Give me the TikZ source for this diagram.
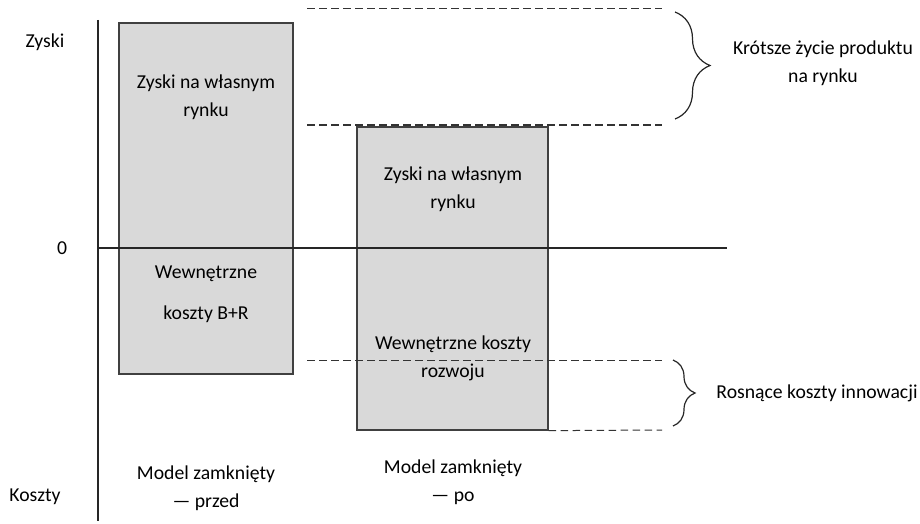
\documentclass[tikz,border=0pt]{standalone}
\usepackage{fontspec}
\setmainfont{Carlito}
\usepackage{tikz}
\usetikzlibrary{positioning}
\usetikzlibrary{decorations.pathreplacing}
\definecolor{barfill}{RGB}{217,217,217}
\definecolor{barline}{RGB}{64,64,64}

\begin{document}
\begin{tikzpicture}[x=1pt, y=-1pt,
        bar/.style = {rectangle, draw=barline, fill=barfill, line width=1.3pt, inner sep=0pt},
        txt/.style = {align=center, inner sep=0pt, font=\fontsize{19.7}{28}\selectfont},
        axis/.style = {line width=1.3pt, draw=black!85},
        guide/.style = {dash pattern=on 7.5pt off 4.5pt, line width=1pt, draw=black!80},
        curly/.style = {decorate, decoration={brace, amplitude=#1}, line width=1.2pt, draw=black!85}]
    \useasboundingbox (0,0) rectangle (920,524);
    \node[bar, minimum width=174pt, minimum height=351pt] (b1) at (206,198.5) {};
    \node[bar, minimum width=191pt, minimum height=303pt] (b2) at (452.5,278.5) {};
    \node[txt] (p1) at (206,97) {Zyski na własnym\\rynku};
    \node[txt] (p2) at (453,189) {Zyski na własnym\\rynku};
    \node[txt] (k1) at (206,294) {Wewnętrzne\\[13pt]koszty B+R};
    \node[txt] (k2) at (453,358) {Wewnętrzne koszty\\rozwoju};
    \node[txt] (m1) at (206,488) {Model zamknięty\\— przed};
    \node[txt] (m2) at (453,482) {Model zamknięty\\— po};
    \node[txt] (zy) at (45,42) {Zyski};
    \node[txt] (zero) at (62,248) {0};
    \node[txt] (ko) at (35,497) {Koszty};
    % axes
    \coordinate (ytop) at (98,20);
    \coordinate (ybot) at (98,521);
    \coordinate (xo) at (98,248);
    \coordinate (xend) at (727,248);
    \draw[axis] (ytop) -- (ybot);
    \draw[axis] (xo) -- (xend);
    % dashed guides
    \coordinate (g1a) at (307,9);
    \coordinate (g1b) at (662,9);
    \coordinate (g2a) at (307,125);
    \coordinate (g2b) at (662,125);
    \coordinate (g3a) at (307,360);
    \coordinate (g3b) at (662,360);
    \coordinate (g4b) at (662,430);
    \draw[guide] (g1a) -- (g1b);
    \draw[guide] (g2a) -- (g2b);
    \draw[guide] (g3a) -- (g3b);
    \draw[guide] (b2.south east) -- (g4b);
    % braces
    \coordinate (c1a) at (675,12);
    \coordinate (c1b) at (675,119);
    \coordinate (c2a) at (673,360);
    \coordinate (c2b) at (673,426);
    \draw[curly=35pt] (c1a) -- (c1b);
    \draw[curly=22pt] (c2a) -- (c2b);
    \node[txt] (kr) at (823,63) {Krótsze życie produktu\\na rynku};
    \node[txt] (ro) at (817,393) {Rosnące koszty innowacji};
\end{tikzpicture}
\end{document}
